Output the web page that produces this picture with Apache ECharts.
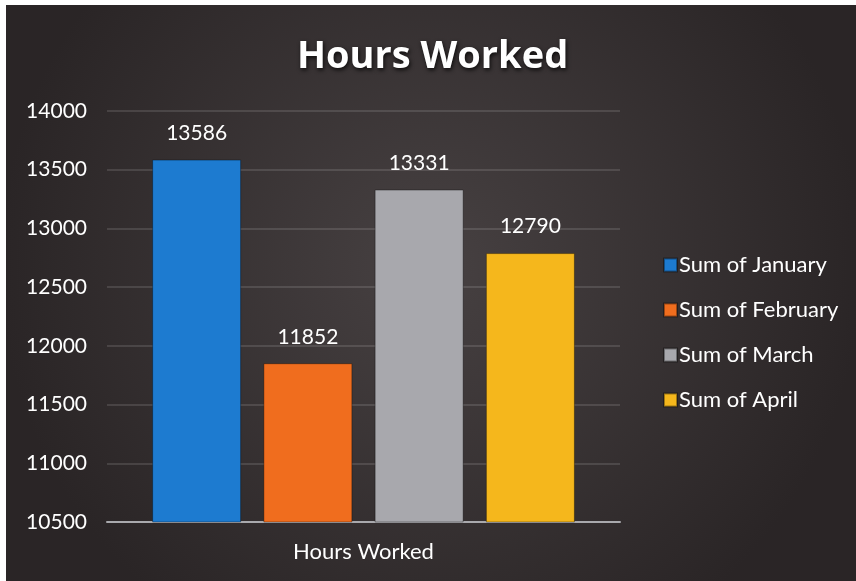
<!DOCTYPE html>
<html>
<head>
<meta charset="utf-8">
<script src="https://cdn.jsdelivr.net/npm/echarts@6/dist/echarts.min.js"></script>
<style>
  html, body { margin: 0; padding: 0; background: #fff; }
  #chart { position: absolute; left: 6px; top: 5px; width: 850px; height: 576px; }
</style>
</head>
<body>
<div id="chart"></div>
<script>
const categories = ["Hours Worked"];
const seriesNames = ["Sum of January", "Sum of February", "Sum of March", "Sum of April"];
const seriesValues = [13586, 11852, 13331, 12790];
const colors = ["#1d7bd0", "#f06d1e", "#a8a8ad", "#f5b71c"];

const chart = echarts.init(document.getElementById("chart"));

const options = {
  backgroundColor: {
    type: "radial", x: 0.5, y: 0.45, r: 0.75,
    colorStops: [
      { offset: 0, color: "#474142" },
      { offset: 1, color: "#2a2526" }
    ]
  },
  color: colors,
  textStyle: { fontFamily: "Lato" },
  title: {
    text: "Hours Worked",
    left: 286, top: 28,
    textStyle: {
      color: "#ffffff", fontSize: 38, fontWeight: "bold", fontFamily: "Open Sans",
      textShadowColor: "rgba(0,0,0,0.8)", textShadowBlur: 4, textShadowOffsetX: 1, textShadowOffsetY: 2
    }
  },
  legend: {
    orient: "vertical",
    left: 652, top: 244,
    itemWidth: 13, itemHeight: 13, itemGap: 23,
    icon: "rect",
    textStyle: { color: "#ffffff", fontSize: 22, fontFamily: "Lato", padding: [0, 0, 0, -3] },
    data: seriesNames
  },
  grid: { left: 101, right: 236, top: 106, bottom: 59 },
  xAxis: {
    type: "category",
    data: categories,
    axisLine: { lineStyle: { color: "#a9a9ad", width: 2 } },
    axisTick: { show: false },
    axisLabel: { color: "#ffffff", fontSize: 22, margin: 19 }
  },
  yAxis: {
    type: "value",
    min: 10500, max: 14000, interval: 500,
    axisLine: { show: false },
    axisTick: { show: false },
    axisLabel: { color: "#ffffff", fontSize: 21, margin: 20, formatter: v => String(v) },
    splitLine: { lineStyle: { color: "rgba(255,255,255,0.12)", width: 2 } }
  },
  series: seriesNames.map((name, i) => ({
    name: name,
    type: "bar",
    barWidth: 89,
    barGap: "25%",
    data: [seriesValues[i]],
    itemStyle: { color: colors[i], borderColor: "rgba(0,0,0,0.35)", borderWidth: 1 },
    label: { show: true, position: "top", distance: 16, color: "#ffffff", fontSize: 21 }
  }))
};

chart.setOption(options);
</script>
</body>
</html>
